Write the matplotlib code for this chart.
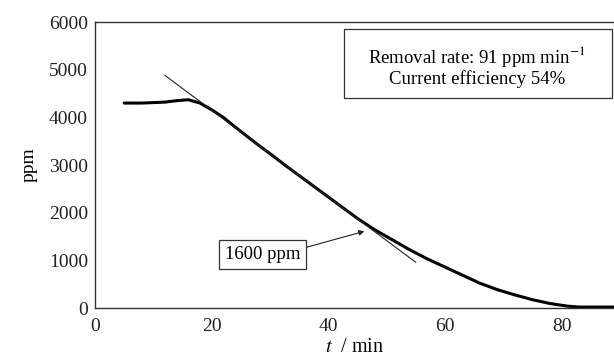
import matplotlib
matplotlib.use('Agg')
import matplotlib.pyplot as plt
from matplotlib.patches import Rectangle

# measured concentration vs time
t = [5, 8, 12, 14, 16, 18, 20, 22, 24, 26, 28, 30, 33, 36, 39, 42, 45, 48,
     51, 54, 57, 60, 63, 66, 69, 72, 75, 78, 81, 83, 86, 89]
ppm = [4300, 4300, 4320, 4350, 4370, 4300, 4160, 4000, 3800, 3610, 3420, 3240,
       2960, 2690, 2420, 2150, 1880, 1640, 1430, 1220, 1030, 860, 690, 520,
       385, 275, 175, 95, 40, 20, 20, 20]

# tangent line (removal rate)
tan_t = [12, 55]
tan_ppm = [4880, 960]

xticks = [0, 20, 40, 60, 80]
yticks = [0, 1000, 2000, 3000, 4000, 5000, 6000]

plt.rcParams['font.family'] = 'Liberation Serif'
plt.rcParams['mathtext.fontset'] = 'stix'
plt.rcParams['font.size'] = 14

fig = plt.figure(figsize=(6.14, 3.6), dpi=100)
ax = fig.add_axes([0.1547, 0.1444, 0.8453, 0.7944])

ax.plot(t, ppm, color='black', lw=2.2, solid_capstyle='round')
ax.plot(tan_t, tan_ppm, color='#222222', lw=0.8)

ax.set_xlim(0, 89)
ax.set_ylim(0, 6000)
ax.set_xticks(xticks)
ax.set_yticks(yticks)
ax.tick_params(axis='both', length=0, colors='#222222', labelsize=14)
ax.tick_params(axis='x', pad=7)
ax.tick_params(axis='y', pad=5)
for s in ['left', 'bottom', 'top']:
    ax.spines[s].set_color('#333333')
    ax.spines[s].set_linewidth(1.0)
ax.spines['right'].set_visible(False)

ax.set_ylabel('ppm', fontsize=14, labelpad=8)
ax.set_xlabel(r'$t$  / min', fontsize=14.5, labelpad=2)

# info box
ax.add_patch(Rectangle((0.48, 0.734), 0.516, 0.2415, transform=ax.transAxes,
                       fill=False, ec='#333333', lw=0.9))
ax.text(0.736, 0.878, r'Removal rate: 91 ppm min$^{-1}$', transform=ax.transAxes,
        ha='center', va='center', fontsize=13.5)
ax.text(0.736, 0.802, 'Current efficiency 54%', transform=ax.transAxes,
        ha='center', va='center', fontsize=13.5)

ax.annotate('1600 ppm', xy=(46.2, 1610), xytext=(28.7, 1130),
            ha='center', va='center', fontsize=13.5,
            bbox=dict(boxstyle='square,pad=0.32', fc='white', ec='#333333', lw=0.9),
            arrowprops=dict(arrowstyle='-|>', color='#222222', lw=0.8,
                            shrinkA=0, shrinkB=0, relpos=(1, 0.8),
                            mutation_scale=8))

fig.savefig('out.png', dpi=100)
